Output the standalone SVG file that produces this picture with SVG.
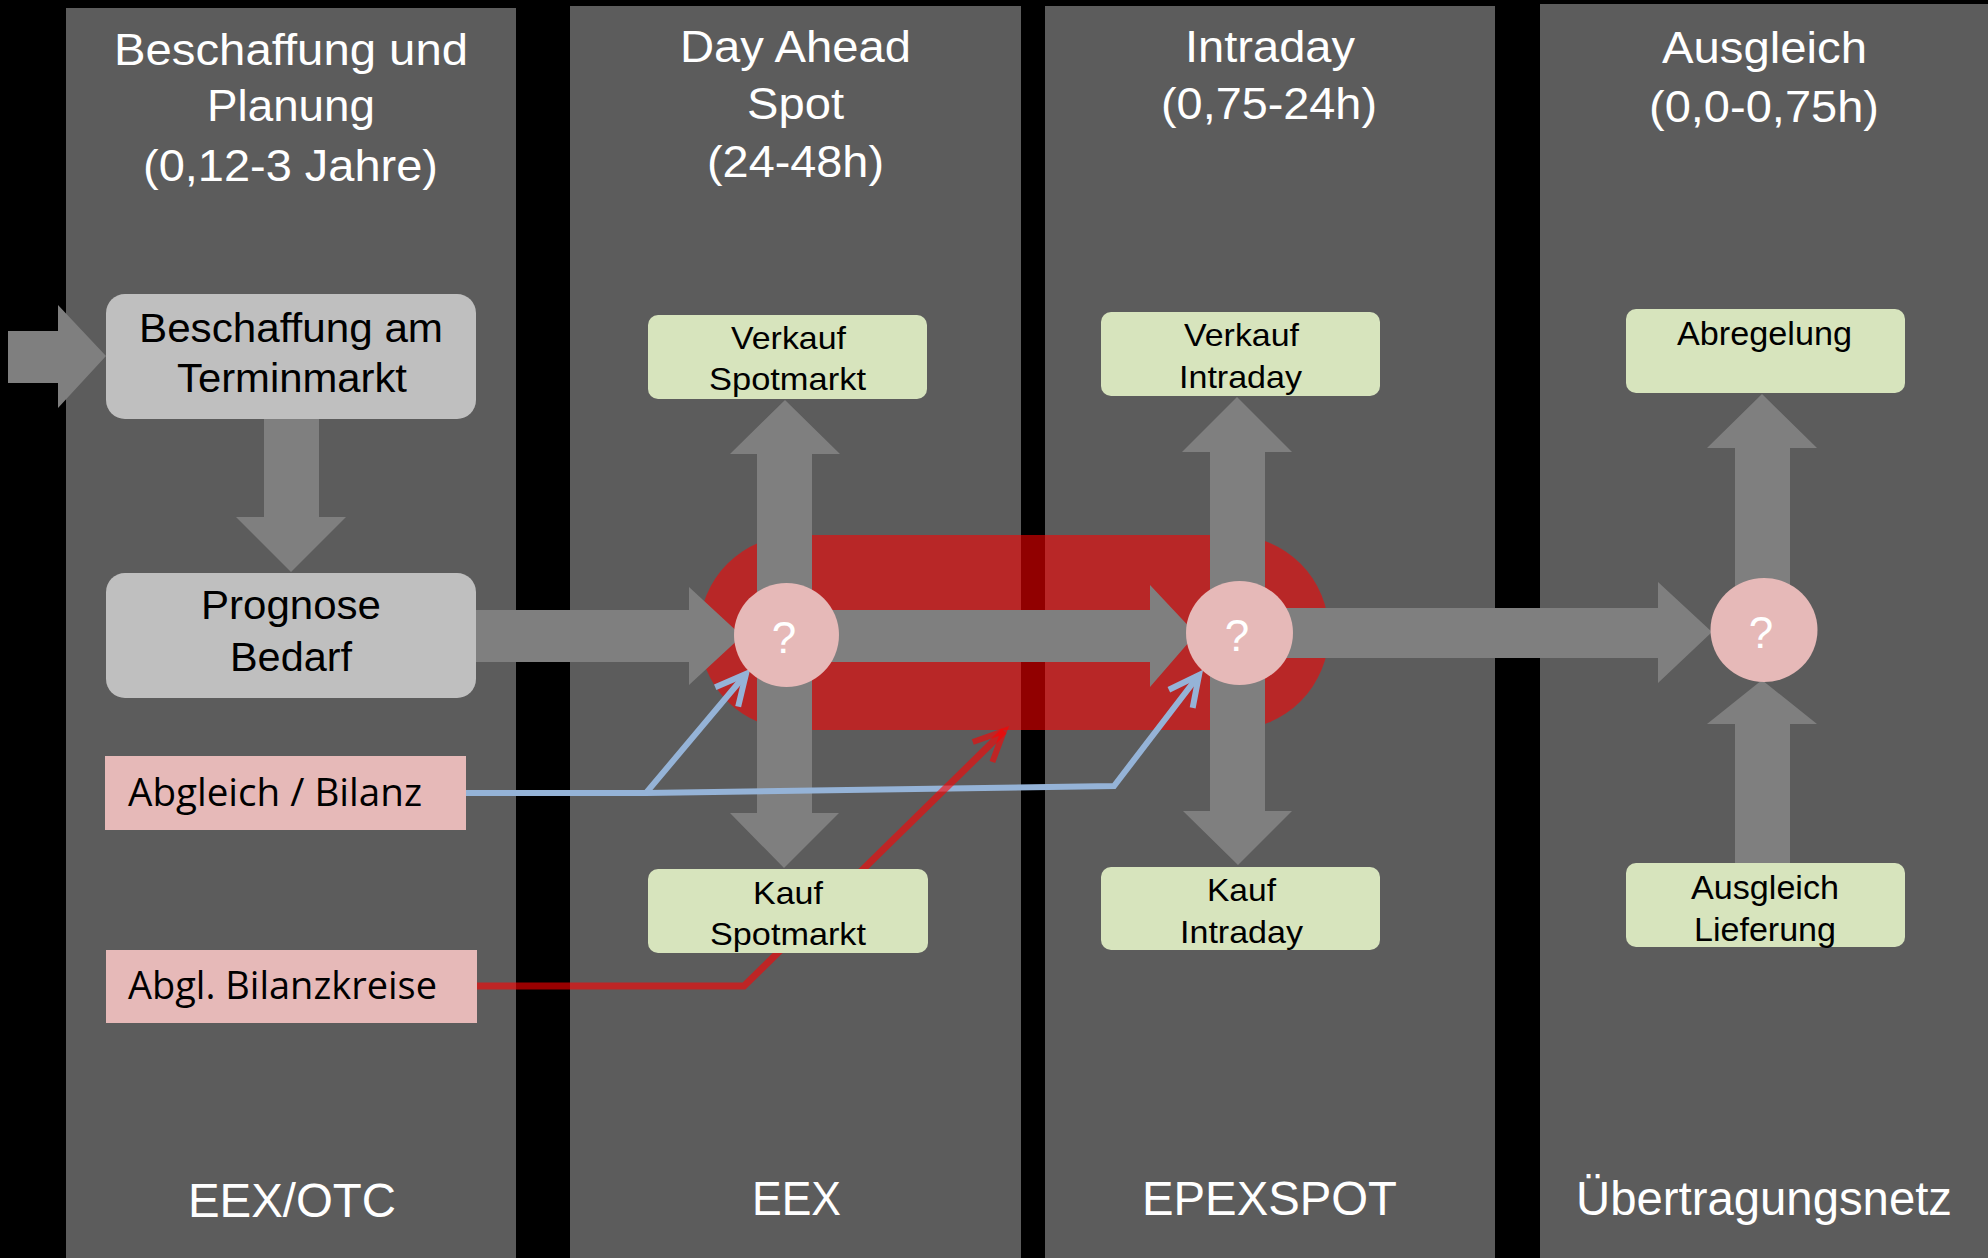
<svg xmlns="http://www.w3.org/2000/svg" width="1988" height="1258" viewBox="0 0 1988 1258">
<defs>
<style>
.col{fill:#5c5c5c}
.ttl{font-family:"Liberation Sans",Arial,sans-serif;font-size:44px;fill:#ffffff}
.ftr{font-family:"Liberation Sans",Arial,sans-serif;font-size:48px;fill:#ffffff}
.gbox{fill:#bfbfbf}
.gtx{font-family:"Liberation Sans",Arial,sans-serif;font-size:40px;fill:#000000}
.lbox{fill:#d7e4bd}
.ltx{font-family:"Liberation Sans",Arial,sans-serif;font-size:32px;fill:#000000}
.ltx2{font-family:"Liberation Sans",Arial,sans-serif;font-size:34px;fill:#000000}
.pbox{fill:#e6b9b8}
.ptx{font-family:"Open Sans","Noto Sans",sans-serif;font-size:38px;fill:#000000}
.ga{fill:#7f7f7f}
.circ{fill:#e6b9b8}
.q{font-family:"Liberation Sans",Arial,sans-serif;font-size:44px;fill:#ffffff;text-anchor:middle}
.blue{fill:none;stroke:#95b3d7;stroke-width:6}
.red{fill:none;stroke:#ff0000;stroke-opacity:0.6;stroke-width:7}
</style>
<marker id="mb" markerUnits="userSpaceOnUse" markerWidth="60" markerHeight="60" viewBox="-40 -30 60 60" refX="0" refY="0" orient="auto">
<path d="M-30,-15 L0,0 L-30,15" fill="none" stroke="#95b3d7" stroke-width="6"/>
</marker>
<marker id="mr" markerUnits="userSpaceOnUse" markerWidth="60" markerHeight="60" viewBox="-40 -30 60 60" refX="0" refY="0" orient="auto">
<path d="M-30,-14 L0,0 L-30,14" fill="none" stroke="#ff0000" stroke-opacity="0.6" stroke-width="6"/>
</marker>
</defs>
<rect x="0" y="0" width="1988" height="1258" fill="#000000"/>
<g id="columns">
<rect class="col" x="66" y="8" width="450" height="1250"/>
<rect class="col" x="570" y="6" width="451" height="1252"/>
<rect class="col" x="1045" y="6" width="450" height="1252"/>
<rect class="col" x="1540" y="4" width="448" height="1254"/>
</g>
<g id="titles">
<text class="ttl" x="114" y="65" textLength="354" lengthAdjust="spacingAndGlyphs">Beschaffung und</text>
<text class="ttl" x="207" y="121" textLength="168" lengthAdjust="spacingAndGlyphs">Planung</text>
<text class="ttl" x="143" y="181" textLength="295" lengthAdjust="spacingAndGlyphs">(0,12-3 Jahre)</text>
<text class="ttl" x="680" y="62" textLength="231" lengthAdjust="spacingAndGlyphs">Day Ahead</text>
<text class="ttl" x="747" y="119" textLength="97" lengthAdjust="spacingAndGlyphs">Spot</text>
<text class="ttl" x="707" y="177" textLength="177" lengthAdjust="spacingAndGlyphs">(24-48h)</text>
<text class="ttl" x="1185" y="62" textLength="170" lengthAdjust="spacingAndGlyphs">Intraday</text>
<text class="ttl" x="1161" y="119" textLength="216" lengthAdjust="spacingAndGlyphs">(0,75-24h)</text>
<text class="ttl" x="1662" y="63" textLength="205" lengthAdjust="spacingAndGlyphs">Ausgleich</text>
<text class="ttl" x="1649" y="122" textLength="230" lengthAdjust="spacingAndGlyphs">(0,0-0,75h)</text>
<text class="ftr" x="188" y="1217" textLength="208" lengthAdjust="spacingAndGlyphs">EEX/OTC</text>
<text class="ftr" x="752" y="1215" textLength="89" lengthAdjust="spacingAndGlyphs">EEX</text>
<text class="ftr" x="1142" y="1215" textLength="255" lengthAdjust="spacingAndGlyphs">EPEXSPOT</text>
<text class="ftr" x="1576" y="1215" textLength="376" lengthAdjust="spacingAndGlyphs">Übertragungsnetz</text>
</g>
<g id="highlight">
<rect x="699" y="535" width="630" height="195" rx="97.5" ry="97.5" fill="#ff0000" fill-opacity="0.57"/>
</g>
<g id="connectors">
<polygon class="ga" points="8,331 58,331 58,305 106,356 58,408 58,383 8,383"/>
<polygon class="ga" points="264,415 319,415 319,517 346,517 291,572 236,517 264,517"/>
<polygon class="ga" points="757,620 757,454 730,454 785,400 840,454 812,454 812,620"/>
<polygon class="ga" points="757,650 757,813 730,813 784,868 839,813 812,813 812,650"/>
<polygon class="ga" points="1210,620 1210,452 1182,452 1237,397 1292,452 1265,452 1265,620"/>
<polygon class="ga" points="1210,650 1210,811 1183,811 1238,865 1292,811 1265,811 1265,650"/>
<polygon class="ga" points="1735,620 1735,448 1707,448 1762,394 1817,448 1790,448 1790,620"/>
<polygon class="ga" points="1735,866 1735,724 1707,724 1762,680 1817,724 1790,724 1790,866"/>
<polygon class="ga" points="470,610 689,610 689,587 742,636 689,685 689,662 470,662"/>
<polygon class="ga" points="800,610 1150,610 1150,585 1196,634 1150,687 1150,662 800,662"/>
<polygon class="ga" points="1260,608 1658,608 1658,582 1712,632 1658,683 1658,658 1260,658"/>
<path class="blue" d="M466,793 L646,793 L746,674" marker-end="url(#mb)"/>
<path class="blue" d="M646,793 L1114,786 L1199,675" marker-end="url(#mb)"/>
<path class="red" d="M477,986 L744,986 L1004,731" marker-end="url(#mr)"/>
</g>
<g id="n-beschaffung">
<rect class="gbox" x="106" y="294" width="370" height="125" rx="19" ry="19"/>
<text class="gtx" x="139" y="342" textLength="304" lengthAdjust="spacingAndGlyphs">Beschaffung am</text>
<text class="gtx" x="177" y="392" textLength="230" lengthAdjust="spacingAndGlyphs">Terminmarkt</text>
</g>
<g id="n-prognose">
<rect class="gbox" x="106" y="573" width="370" height="125" rx="19" ry="19"/>
<text class="gtx" x="201" y="619" textLength="180" lengthAdjust="spacingAndGlyphs">Prognose</text>
<text class="gtx" x="230" y="671" textLength="122" lengthAdjust="spacingAndGlyphs">Bedarf</text>
</g>
<g id="n-abgleich">
<rect class="pbox" x="105" y="756" width="361" height="74"/>
<text class="ptx" x="128" y="806" textLength="294" lengthAdjust="spacingAndGlyphs">Abgleich / Bilanz</text>
</g>
<g id="n-bilanzkreise">
<rect class="pbox" x="106" y="950" width="371" height="73"/>
<text class="ptx" x="128" y="999" textLength="309" lengthAdjust="spacingAndGlyphs">Abgl. Bilanzkreise</text>
</g>
<g id="n-verkauf-spot">
<rect class="lbox" x="648" y="315" width="279" height="84" rx="10" ry="10"/>
<text class="ltx" x="731" y="349" textLength="115" lengthAdjust="spacingAndGlyphs">Verkauf</text>
<text class="ltx" x="709" y="390" textLength="157" lengthAdjust="spacingAndGlyphs">Spotmarkt</text>
</g>
<g id="n-kauf-spot">
<rect class="lbox" x="648" y="869" width="280" height="84" rx="10" ry="10"/>
<text class="ltx" x="753" y="904" textLength="70" lengthAdjust="spacingAndGlyphs">Kauf</text>
<text class="ltx" x="710" y="945" textLength="156" lengthAdjust="spacingAndGlyphs">Spotmarkt</text>
</g>
<g id="n-verkauf-intraday">
<rect class="lbox" x="1101" y="312" width="279" height="84" rx="10" ry="10"/>
<text class="ltx" x="1184" y="346" textLength="115" lengthAdjust="spacingAndGlyphs">Verkauf</text>
<text class="ltx" x="1179" y="388" textLength="123" lengthAdjust="spacingAndGlyphs">Intraday</text>
</g>
<g id="n-kauf-intraday">
<rect class="lbox" x="1101" y="867" width="279" height="83" rx="10" ry="10"/>
<text class="ltx" x="1207" y="901" textLength="69" lengthAdjust="spacingAndGlyphs">Kauf</text>
<text class="ltx" x="1180" y="943" textLength="123" lengthAdjust="spacingAndGlyphs">Intraday</text>
</g>
<g id="n-abregelung">
<rect class="lbox" x="1626" y="309" width="279" height="84" rx="10" ry="10"/>
<text class="ltx2" x="1677" y="345" textLength="175" lengthAdjust="spacingAndGlyphs">Abregelung</text>
</g>
<g id="n-ausgleich-lieferung">
<rect class="lbox" x="1626" y="863" width="279" height="84" rx="10" ry="10"/>
<text class="ltx2" x="1691" y="899" textLength="148" lengthAdjust="spacingAndGlyphs">Ausgleich</text>
<text class="ltx2" x="1694" y="941" textLength="142" lengthAdjust="spacingAndGlyphs">Lieferung</text>
</g>
<g id="n-q1">
<ellipse class="circ" cx="786.5" cy="635" rx="52.5" ry="52"/>
<text class="q" x="784" y="653">?</text>
</g>
<g id="n-q2">
<ellipse class="circ" cx="1239.5" cy="633" rx="53.5" ry="52"/>
<text class="q" x="1237" y="651">?</text>
</g>
<g id="n-q3">
<ellipse class="circ" cx="1764" cy="630" rx="53.5" ry="52"/>
<text class="q" x="1761" y="648">?</text>
</g>
</svg>
